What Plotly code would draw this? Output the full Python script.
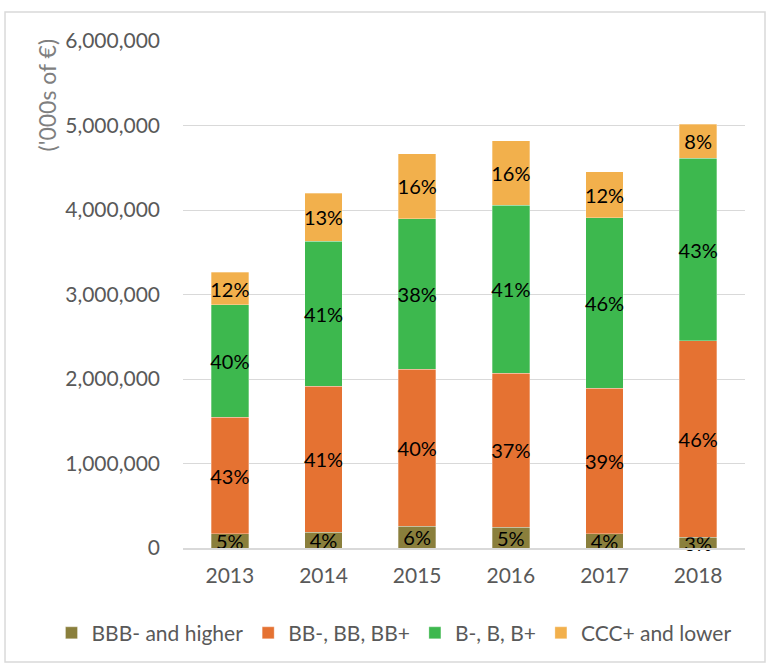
import plotly.graph_objects as go

years = ["2013", "2014", "2015", "2016", "2017", "2018"]
series_names = ["BBB- and higher", "BB-, BB, BB+", "B-, B, B+", "CCC+ and lower"]
bbb = [166000, 189000, 260000, 248000, 166000, 130000]
bb = [1384000, 1728000, 1858000, 1818000, 1727000, 2320000]
b = [1326000, 1716000, 1779000, 1992000, 2016000, 2165000]
ccc = [390000, 568000, 766000, 762000, 541000, 399000]
bbb_lbl = ["5%", "4%", "6%", "5%", "4%", "3%"]
bb_lbl = ["43%", "41%", "40%", "37%", "39%", "46%"]
b_lbl = ["40%", "41%", "38%", "41%", "46%", "43%"]
ccc_lbl = ["12%", "13%", "16%", "16%", "12%", "8%"]
y_ticks = [0, 1000000, 2000000, 3000000, 4000000, 5000000, 6000000]
y_title = "('000s of €)"

colors = ["#8A7F3C", "#E57232", "#3DB84E", "#F2B04C"]
font_family = "Lato, 'Open Sans', sans-serif"

fig = go.Figure()
for name, vals, lbls, col in zip(series_names, [bbb, bb, b, ccc],
                                 [bbb_lbl, bb_lbl, b_lbl, ccc_lbl], colors):
    fig.add_trace(go.Bar(
        x=years, y=vals, name=name, text=lbls,
        textposition="inside", insidetextanchor="middle",
        constraintext="none", textangle=0,
        textfont=dict(color="black", size=20, family=font_family),
        marker=dict(color=col, line=dict(color="rgba(255,255,255,0.5)", width=0.6)),
        cliponaxis=False,
    ))

fig.update_layout(
    barmode="stack",
    bargap=0.6,
    width=767, height=664,
    margin=dict(l=183, r=22, t=41, b=116, autoexpand=False),
    paper_bgcolor="white", plot_bgcolor="white",
    font=dict(family=font_family, color="#595959"),
    showlegend=True,
    legend=dict(orientation="h", x=-0.234, xanchor="left", y=-0.168, yanchor="middle",
                font=dict(size=21, color="#595959"), traceorder="normal",
                itemwidth=30, tracegroupgap=0),
    xaxis=dict(tickfont=dict(size=21, color="#595959"), showline=True,
               linecolor="#D9D9D9", linewidth=1.5, ticks="", ticklabelstandoff=8),
    yaxis=dict(range=[0, 6000000], tickvals=y_ticks, tickformat=",d",
               tickfont=dict(size=21, color="#595959"), showgrid=True,
               gridcolor="#D9D9D9", gridwidth=1.3, zeroline=False,
               ticklabelstandoff=22),
    annotations=[dict(text=y_title, xref="paper", yref="paper", x=-0.242, y=1.01,
                      xanchor="center", yanchor="top", textangle=-90, showarrow=False,
                      font=dict(size=23, color="#7F7F7F"))],
    shapes=[dict(type="rect", xref="paper", yref="paper",
                 x0=-0.3167, x1=1.0356, y0=-0.225, y1=1.057,
                 line=dict(color="#D9D9D9", width=1.5), layer="below")],
)

fig.write_html("out.html", config={"displayModeBar": False},
               post_script="document.body.style.margin='0';document.body.style.padding='0';")
